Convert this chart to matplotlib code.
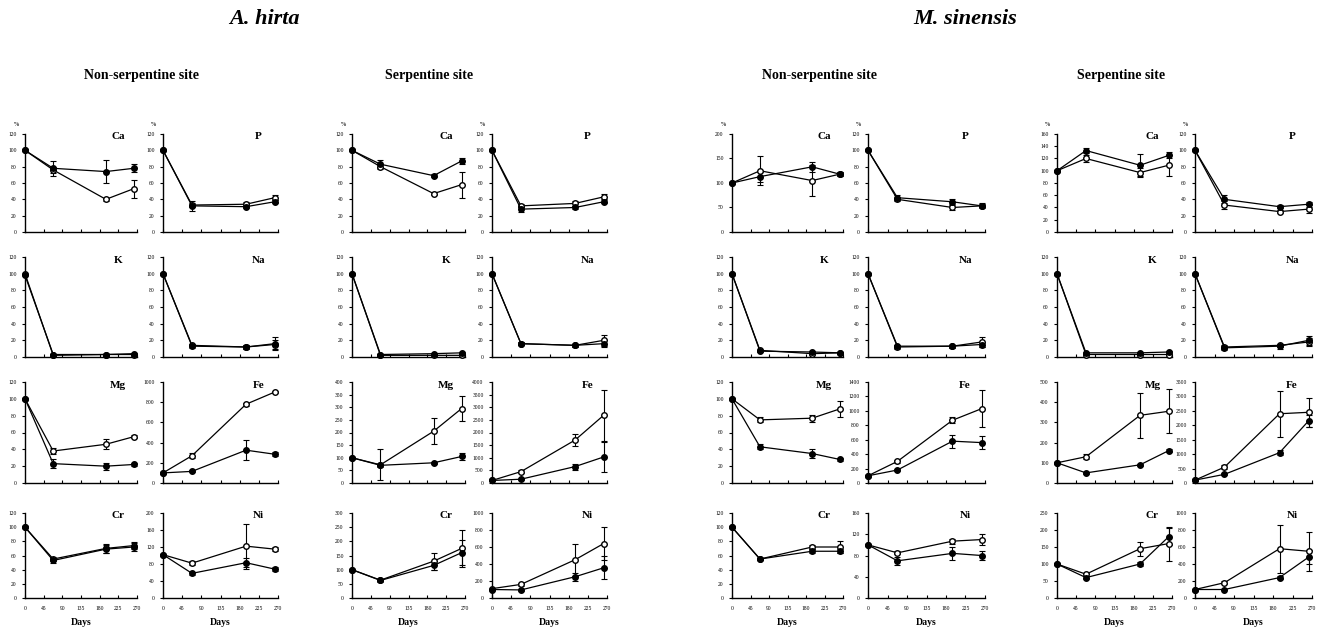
import numpy as np
import matplotlib
matplotlib.use("Agg")
import matplotlib.pyplot as plt

plt.rcParams['font.family'] = ['Liberation Serif', 'DejaVu Serif']

# sampling days
days = [0, 68, 195, 262]
day_ticks = [0, 45, 90, 135, 180, 225, 270]

# ---- A. hirta, non-serpentine site ----
ah_ns_ca_f, ah_ns_ca_fe = [100, 78, 74, 78], [0, 9, 14, 5]
ah_ns_ca_o, ah_ns_ca_oe = [100, 76, 40, 53], [0, 4, 2, 11]
ah_ns_p_f, ah_ns_p_fe = [100, 32, 31, 37], [0, 6, 2, 2]
ah_ns_p_o, ah_ns_p_oe = [100, 33, 34, 42], [0, 3, 3, 3]
ah_ns_k_f, ah_ns_k_fe = [98, 3, 3, 4], [0, 1, 1, 1]
ah_ns_k_o, ah_ns_k_oe = [100, 2, 3, 3], [0, 1, 1, 1]
ah_ns_na_f, ah_ns_na_fe = [100, 13, 12, 16], [0, 2, 2, 8]
ah_ns_na_o, ah_ns_na_oe = [100, 14, 12, 15], [0, 2, 2, 5]
ah_ns_mg_f, ah_ns_mg_fe = [100, 23, 20, 22], [0, 5, 4, 2]
ah_ns_mg_o, ah_ns_mg_oe = [100, 38, 46, 55], [0, 4, 6, 2]
ah_ns_fe_f, ah_ns_fe_fe = [100, 115, 325, 285], [0, 10, 100, 20]
ah_ns_fe_o, ah_ns_fe_oe = [100, 270, 780, 900], [0, 25, 15, 10]
ah_ns_cr_f, ah_ns_cr_fe = [100, 53, 69, 72], [0, 3, 6, 5]
ah_ns_cr_o, ah_ns_cr_oe = [100, 55, 70, 74], [0, 3, 6, 5]
ah_ns_ni_f, ah_ns_ni_fe = [102, 58, 83, 68], [0, 3, 10, 4]
ah_ns_ni_o, ah_ns_ni_oe = [102, 82, 122, 115], [0, 4, 53, 5]

# ---- A. hirta, serpentine site ----
ah_s_ca_f, ah_s_ca_fe = [100, 83, 69, 87], [0, 5, 2, 4]
ah_s_ca_o, ah_s_ca_oe = [100, 80, 47, 58], [0, 3, 2, 16]
ah_s_p_f, ah_s_p_fe = [100, 28, 30, 37], [0, 3, 2, 2]
ah_s_p_o, ah_s_p_oe = [100, 32, 35, 43], [0, 2, 3, 3]
ah_s_k_f, ah_s_k_fe = [100, 3, 4, 5], [0, 1, 1, 1]
ah_s_k_o, ah_s_k_oe = [100, 2, 2, 2], [0, 1, 1, 1]
ah_s_na_f, ah_s_na_fe = [100, 16, 14, 16], [0, 2, 2, 4]
ah_s_na_o, ah_s_na_oe = [100, 16, 14, 20], [0, 2, 2, 7]
ah_s_mg_f, ah_s_mg_fe = [100, 70, 80, 105], [0, 5, 5, 15]
ah_s_mg_o, ah_s_mg_oe = [100, 72, 205, 295], [0, 62, 52, 51]
ah_s_fe_f, ah_s_fe_fe = [100, 150, 650, 1030], [0, 20, 120, 580]
ah_s_fe_o, ah_s_fe_oe = [100, 450, 1700, 2680], [0, 60, 250, 1000]
ah_s_cr_f, ah_s_cr_fe = [100, 62, 115, 160], [0, 4, 15, 45]
ah_s_cr_o, ah_s_cr_oe = [100, 63, 130, 175], [0, 4, 30, 64]
ah_s_ni_f, ah_s_ni_fe = [100, 95, 250, 355], [0, 10, 50, 135]
ah_s_ni_o, ah_s_ni_oe = [110, 160, 450, 640], [0, 15, 190, 190]

# ---- M. sinensis, non-serpentine site ----
ms_ns_ca_f, ms_ns_ca_fe = [100, 113, 133, 118], [0, 10, 10, 4]
ms_ns_ca_o, ms_ns_ca_oe = [100, 125, 105, 118], [0, 30, 32, 4]
ms_ns_p_f, ms_ns_p_fe = [100, 42, 37, 32], [0, 3, 3, 3]
ms_ns_p_o, ms_ns_p_oe = [100, 40, 30, 32], [0, 2, 3, 2]
ms_ns_k_f, ms_ns_k_fe = [100, 7, 6, 5], [0, 1, 1, 1]
ms_ns_k_o, ms_ns_k_oe = [100, 8, 4, 5], [0, 1, 1, 1]
ms_ns_na_f, ms_ns_na_fe = [100, 13, 13, 15], [0, 2, 2, 3]
ms_ns_na_o, ms_ns_na_oe = [100, 12, 13, 18], [0, 2, 2, 6]
ms_ns_mg_f, ms_ns_mg_fe = [100, 43, 35, 28], [0, 3, 5, 2]
ms_ns_mg_o, ms_ns_mg_oe = [100, 75, 77, 88], [0, 3, 4, 9]
ms_ns_fe_f, ms_ns_fe_fe = [100, 180, 580, 560], [0, 15, 90, 90]
ms_ns_fe_o, ms_ns_fe_oe = [100, 300, 870, 1030], [0, 20, 40, 260]
ms_ns_cr_f, ms_ns_cr_fe = [100, 55, 66, 66], [0, 2, 3, 3]
ms_ns_cr_o, ms_ns_cr_oe = [100, 55, 72, 72], [0, 2, 3, 8]
ms_ns_ni_f, ms_ns_ni_fe = [100, 70, 84, 80], [0, 8, 12, 8]
ms_ns_ni_o, ms_ns_ni_oe = [100, 85, 107, 110], [0, 3, 5, 10]

# ---- M. sinensis, serpentine site ----
ms_s_ca_f, ms_s_ca_fe = [100, 133, 109, 125], [0, 4, 18, 5]
ms_s_ca_o, ms_s_ca_oe = [100, 120, 97, 109], [0, 6, 7, 17]
ms_s_p_f, ms_s_p_fe = [100, 40, 31, 34], [0, 5, 2, 3]
ms_s_p_o, ms_s_p_oe = [100, 33, 25, 28], [0, 5, 2, 5]
ms_s_k_f, ms_s_k_fe = [100, 5, 5, 6], [0, 1, 1, 1]
ms_s_k_o, ms_s_k_oe = [100, 3, 3, 3], [0, 1, 1, 1]
ms_s_na_f, ms_s_na_fe = [100, 11, 13, 20], [0, 2, 3, 5]
ms_s_na_o, ms_s_na_oe = [100, 12, 14, 18], [0, 2, 2, 5]
ms_s_mg_f, ms_s_mg_fe = [100, 50, 90, 160], [0, 5, 5, 8]
ms_s_mg_o, ms_s_mg_oe = [100, 130, 335, 355], [0, 12, 110, 108]
ms_s_fe_f, ms_s_fe_fe = [100, 300, 1050, 2150], [0, 30, 80, 200]
ms_s_fe_o, ms_s_fe_oe = [100, 550, 2400, 2450], [0, 60, 800, 500]
ms_s_cr_f, ms_s_cr_fe = [100, 60, 100, 180], [0, 4, 5, 25]
ms_s_cr_o, ms_s_cr_oe = [100, 70, 145, 160], [0, 4, 20, 50]
ms_s_ni_f, ms_s_ni_fe = [100, 100, 240, 480], [0, 10, 15, 80]
ms_s_ni_o, ms_s_ni_oe = [100, 180, 580, 550], [0, 20, 280, 230]

# y-axis ranges (max, step) per element, per panel column
col_elements = [["Ca", "K", "Mg", "Cr"], ["P", "Na", "Fe", "Ni"]] * 4
col_yaxis = [
    [(120, 20), (120, 20), (120, 20), (120, 20)],
    [(120, 20), (120, 20), (1000, 200), (200, 40)],
    [(120, 20), (120, 20), (400, 50), (300, 50)],
    [(120, 20), (120, 20), (4000, 500), (1000, 200)],
    [(200, 50), (120, 20), (120, 20), (120, 20)],
    [(120, 20), (120, 20), (1400, 200), (160, 40)],
    [(160, 20), (120, 20), (500, 100), (250, 50)],
    [(120, 20), (120, 20), (3500, 500), (1000, 200)],
]
col_series = [
    [(ah_ns_ca_f, ah_ns_ca_fe, ah_ns_ca_o, ah_ns_ca_oe), (ah_ns_k_f, ah_ns_k_fe, ah_ns_k_o, ah_ns_k_oe),
     (ah_ns_mg_f, ah_ns_mg_fe, ah_ns_mg_o, ah_ns_mg_oe), (ah_ns_cr_f, ah_ns_cr_fe, ah_ns_cr_o, ah_ns_cr_oe)],
    [(ah_ns_p_f, ah_ns_p_fe, ah_ns_p_o, ah_ns_p_oe), (ah_ns_na_f, ah_ns_na_fe, ah_ns_na_o, ah_ns_na_oe),
     (ah_ns_fe_f, ah_ns_fe_fe, ah_ns_fe_o, ah_ns_fe_oe), (ah_ns_ni_f, ah_ns_ni_fe, ah_ns_ni_o, ah_ns_ni_oe)],
    [(ah_s_ca_f, ah_s_ca_fe, ah_s_ca_o, ah_s_ca_oe), (ah_s_k_f, ah_s_k_fe, ah_s_k_o, ah_s_k_oe),
     (ah_s_mg_f, ah_s_mg_fe, ah_s_mg_o, ah_s_mg_oe), (ah_s_cr_f, ah_s_cr_fe, ah_s_cr_o, ah_s_cr_oe)],
    [(ah_s_p_f, ah_s_p_fe, ah_s_p_o, ah_s_p_oe), (ah_s_na_f, ah_s_na_fe, ah_s_na_o, ah_s_na_oe),
     (ah_s_fe_f, ah_s_fe_fe, ah_s_fe_o, ah_s_fe_oe), (ah_s_ni_f, ah_s_ni_fe, ah_s_ni_o, ah_s_ni_oe)],
    [(ms_ns_ca_f, ms_ns_ca_fe, ms_ns_ca_o, ms_ns_ca_oe), (ms_ns_k_f, ms_ns_k_fe, ms_ns_k_o, ms_ns_k_oe),
     (ms_ns_mg_f, ms_ns_mg_fe, ms_ns_mg_o, ms_ns_mg_oe), (ms_ns_cr_f, ms_ns_cr_fe, ms_ns_cr_o, ms_ns_cr_oe)],
    [(ms_ns_p_f, ms_ns_p_fe, ms_ns_p_o, ms_ns_p_oe), (ms_ns_na_f, ms_ns_na_fe, ms_ns_na_o, ms_ns_na_oe),
     (ms_ns_fe_f, ms_ns_fe_fe, ms_ns_fe_o, ms_ns_fe_oe), (ms_ns_ni_f, ms_ns_ni_fe, ms_ns_ni_o, ms_ns_ni_oe)],
    [(ms_s_ca_f, ms_s_ca_fe, ms_s_ca_o, ms_s_ca_oe), (ms_s_k_f, ms_s_k_fe, ms_s_k_o, ms_s_k_oe),
     (ms_s_mg_f, ms_s_mg_fe, ms_s_mg_o, ms_s_mg_oe), (ms_s_cr_f, ms_s_cr_fe, ms_s_cr_o, ms_s_cr_oe)],
    [(ms_s_p_f, ms_s_p_fe, ms_s_p_o, ms_s_p_oe), (ms_s_na_f, ms_s_na_fe, ms_s_na_o, ms_s_na_oe),
     (ms_s_fe_f, ms_s_fe_fe, ms_s_fe_o, ms_s_fe_oe), (ms_s_ni_f, ms_s_ni_fe, ms_s_ni_o, ms_s_ni_oe)],
]

W, H = 1322, 633
fig = plt.figure(figsize=(W / 100, H / 100), dpi=100)

# panel boxes in pixels
col_px = [(25, 137), (163, 278), (352, 465), (492, 607),
          (732, 843), (868, 985), (1057, 1172), (1195, 1312)]
row_px = [(134, 232), (257, 357), (382, 483), (513, 598)]


def draw_panel(ax, f, fe, o, oe, ymax, step, name, bottom, top):
    kw = dict(color="black", marker="o", ms=4, lw=0.9, elinewidth=0.8,
              capsize=2.2, capthick=0.8, mec="black", clip_on=False, zorder=3)
    ax.errorbar(days, o, yerr=oe, mfc="white", **kw)
    ax.errorbar(days, f, yerr=fe, mfc="black", **kw)
    ax.set_xlim(0, 270)
    ax.set_ylim(0, ymax)
    ax.set_yticks(np.arange(0, ymax + step / 2, step))
    ax.set_xticks(day_ticks)
    for s in ("top", "right"):
        ax.spines[s].set_visible(False)
    for s in ("left", "bottom"):
        ax.spines[s].set_linewidth(1.0)
    ax.tick_params(axis="x", direction="in", length=2.5, width=0.8, labelsize=4, pad=6)
    ax.tick_params(axis="y", direction="out", length=2, width=0.8, labelsize=4, pad=4)
    if not bottom:
        ax.set_xticklabels([])
    else:
        ax.set_xlabel("Days", fontsize=7, fontweight="bold", labelpad=5)
    ax.text(0.83, 0.97, name, transform=ax.transAxes, fontsize=8,
            fontweight="bold", ha="center", va="center")
    if top:
        ax.text(-0.08, 1.1, "%", transform=ax.transAxes, fontsize=4.5,
                ha="center", va="center")


for ci, (x0, x1) in enumerate(col_px):
    for ri, (y0, y1) in enumerate(row_px):
        ax = fig.add_axes([x0 / W, 1 - y1 / H, (x1 - x0) / W, (y1 - y0) / H])
        ymax, step = col_yaxis[ci][ri]
        f, fe, o, oe = col_series[ci][ri]
        draw_panel(ax, f, fe, o, oe, ymax, step, col_elements[ci][ri],
                   ri == 3, ri == 0)

# species and site headings
fig.text(264 / W, 1 - 19 / H, "A. hirta", fontsize=16, fontweight="bold",
         fontstyle="italic", ha="center", va="center")
fig.text(965 / W, 1 - 19 / H, "M. sinensis", fontsize=16, fontweight="bold",
         fontstyle="italic", ha="center", va="center")
for xc, label in [(141, "Non-serpentine site"), (429, "Serpentine site"),
                  (820, "Non-serpentine site"), (1121, "Serpentine site")]:
    fig.text(xc / W, 1 - 75 / H, label, fontsize=10, fontweight="bold",
             ha="center", va="center")

fig.savefig("out.png", dpi=100)
